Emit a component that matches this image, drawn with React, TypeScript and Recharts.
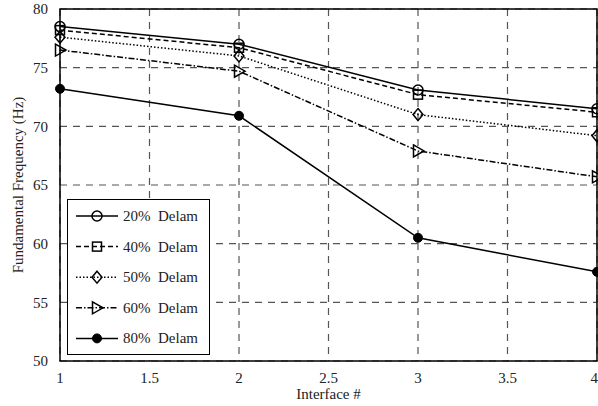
import { LineChart, Line, XAxis, YAxis, CartesianGrid, ReferenceArea } from 'recharts';

const interfaces = [1, 2, 3, 4];
const delam20 = [78.5, 77.0, 73.1, 71.5];
const delam40 = [78.2, 76.7, 72.7, 71.2];
const delam50 = [77.6, 76.0, 71.0, 69.2];
const delam60 = [76.5, 74.7, 67.9, 65.7];
const delam80 = [73.2, 70.9, 60.5, 57.6];

const xTicks = [1, 1.5, 2, 2.5, 3, 3.5, 4];
const yTicks = [50, 55, 60, 65, 70, 75, 80];

const data = interfaces.map((x, i) => ({
  x,
  d20: delam20[i],
  d40: delam40[i],
  d50: delam50[i],
  d60: delam60[i],
  d80: delam80[i],
}));

const FONT = '"Liberation Serif", "DejaVu Serif", serif';

type Shape = 'circle' | 'square' | 'diamond' | 'triangle' | 'dot';

const SERIES: { key: string; name: string; dash?: string; shape: Shape }[] = [
  { key: 'd20', name: '20%  Delam', shape: 'circle' },
  { key: 'd40', name: '40%  Delam', dash: '5 3', shape: 'square' },
  { key: 'd50', name: '50%  Delam', dash: '1.5 2', shape: 'diamond' },
  { key: 'd60', name: '60%  Delam', dash: '6 2 1.5 2', shape: 'triangle' },
  { key: 'd80', name: '80%  Delam', shape: 'dot' },
];

const marker = (shape: Shape, cx: number, cy: number, key?: string) => {
  const s = { stroke: '#000', strokeWidth: 1.5, fill: 'none' };
  switch (shape) {
    case 'circle':
      return <circle key={key} cx={cx} cy={cy} r={5} {...s} />;
    case 'square':
      return <rect key={key} x={cx - 4.5} y={cy - 4.5} width={9} height={9} {...s} />;
    case 'diamond':
      return <path key={key} d={`M${cx},${cy - 6}L${cx + 5},${cy}L${cx},${cy + 6}L${cx - 5},${cy}Z`} {...s} />;
    case 'triangle':
      return <path key={key} d={`M${cx - 4.5},${cy - 6}L${cx + 6},${cy}L${cx - 4.5},${cy + 6}Z`} {...s} />;
    default:
      return <circle key={key} cx={cx} cy={cy} r={4.5} fill="#000" stroke="#000" />;
  }
};

const makeDot = (shape: Shape) => (props: any) => {
  const { cx, cy, index } = props;
  return marker(shape, cx, cy, `m-${shape}-${index}`);
};

const yLabel = (props: any) => {
  const { viewBox } = props;
  const cx = 18;
  const cy = viewBox.y + viewBox.height / 2;
  return (
    <text x={cx} y={cy} transform={`rotate(-90 ${cx} ${cy})`} textAnchor="middle" dominantBaseline="central"
      fontFamily={FONT} fontSize={15} fill="#222">
      Fundamental Frequency (Hz)
    </text>
  );
};

// legend box drawn over the plot, bottom-left like the original
const LegendBox = () => (
  <div
    style={{
      position: 'absolute', left: 67, top: 199, width: 143, height: 156,
      border: '1.5px solid #000', background: '#fff', boxSizing: 'border-box',
    }}
  >
    <svg width={140} height={153} style={{ display: 'block' }}>
      {SERIES.map((s, i) => {
        const y = 16 + i * 30.6;
        return (
          <g key={s.key}>
            <line x1={8} x2={50} y1={y} y2={y} stroke="#000" strokeWidth={1.5} strokeDasharray={s.dash} />
            {marker(s.shape, 29, y)}
            <text x={55} y={y} dominantBaseline="central" fontFamily={FONT} fontSize={15} fill="#222" style={{ whiteSpace: 'pre' }}>
              {s.name}
            </text>
          </g>
        );
      })}
    </svg>
  </div>
);

export default function App() {
  return (
    <div style={{ position: 'absolute', left: 0, top: 0, width: 598, height: 406, background: '#fff' }}>
      <LineChart width={598} height={406} data={data} margin={{ top: 9, right: 1, bottom: 0, left: 0 }}>
        <CartesianGrid stroke="#555" strokeDasharray="7 6" strokeWidth={1.2} />
        <XAxis
          dataKey="x"
          type="number"
          domain={[1, 4]}
          ticks={xTicks}
          height={45}
          tickLine={false}
          axisLine={false}
          tick={{ fontFamily: FONT, fontSize: 15, fill: '#222' }}
          tickMargin={5}
          label={{ value: 'Interface #', position: 'insideBottom', offset: 7, fontFamily: FONT, fontSize: 15, fill: '#222' }}
        />
        <YAxis
          type="number"
          domain={[50, 80]}
          ticks={yTicks}
          width={60}
          tickLine={false}
          axisLine={false}
          tick={{ fontFamily: FONT, fontSize: 15, fill: '#222' }}
          tickMargin={6}
          label={yLabel}
        />
        <ReferenceArea x1={1} x2={4} y1={50} y2={80} fill="none" stroke="#000" strokeWidth={1.5} />
        {SERIES.map((s) => (
          <Line
            key={s.key}
            dataKey={s.key}
            name={s.name}
            stroke="#000"
            strokeWidth={1.5}
            strokeDasharray={s.dash}
            dot={makeDot(s.shape)}
            activeDot={false}
            isAnimationActive={false}
          />
        ))}
      </LineChart>
      <LegendBox />
    </div>
  );
}
